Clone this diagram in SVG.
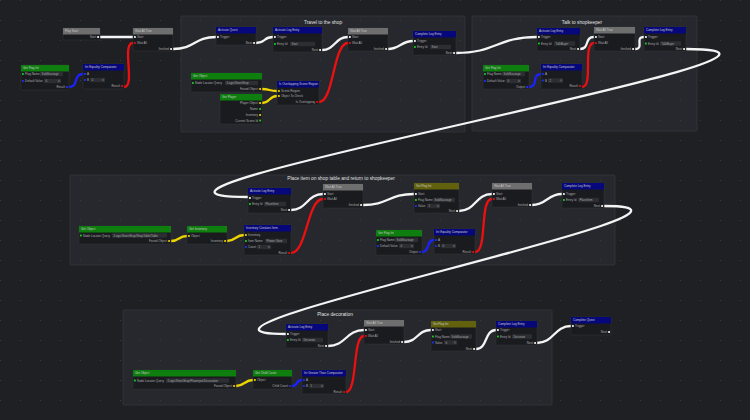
<svg xmlns="http://www.w3.org/2000/svg" width="750" height="420" viewBox="0 0 750 420">
<defs>
<pattern id="dots" width="20" height="20" patternUnits="userSpaceOnUse"><rect x="0" y="0" width="1" height="1" fill="#383b42"/></pattern>
<style>
text{font-family:"Liberation Sans","DejaVu Sans",sans-serif}
.grp{fill:#26282d;stroke:#33363c;stroke-width:0.8}
.gt{font-size:4.8px;fill:#e0e0e0;text-anchor:middle}
.nb{fill:#1a1b1f;stroke:#303238;stroke-width:0.6}
.hg{fill:#6e6e6e}.hb{fill:#07077c}.hgr{fill:#0e7e0e}.ho{fill:#62610e}
.ht{font-size:3px;fill:#c8c8c8}
.t{font-size:3px;fill:#acacac}
.e{text-anchor:end}
.fd{fill:#2c2e33}
.ft{font-size:2.9px;fill:#a8a8a8}
.sp{fill:none;stroke:#8a8a8a;stroke-width:0.4}
.pw{fill:#f0f0f0}.pg{fill:#18d018}.pb{fill:#2030ff}.py{fill:#e8d000}.pr{fill:#e01010}
.w,.r,.b,.y{fill:none;stroke-width:2.3;stroke-linecap:round}
.w{stroke:#f4f4f4}.r{stroke:#ee1010}.b{stroke:#1c22ff}.y{stroke:#ecd400}
</style>
</defs>
<rect x="0" y="0" width="750" height="420" fill="#1e2024"/>
<g id="groups">
<rect class="grp" x="181" y="16" width="284" height="116" rx="1"/>
<text class="gt" x="323" y="23.5">Travel to the shop</text>
<rect class="grp" x="472" y="16" width="225" height="115" rx="1"/>
<text class="gt" x="582" y="23.5">Talk to shopkeeper</text>
<rect class="grp" x="70" y="175" width="545" height="90" rx="1"/>
<text class="gt" x="341" y="179.8">Place item on shop table and return to shopkeeper</text>
<rect class="grp" x="123" y="310" width="429" height="95" rx="1"/>
<text class="gt" x="335" y="316">Place decoration</text>
</g>
<rect x="0" y="0" width="750" height="420" fill="url(#dots)"/>
<g id="connectors">
<path class="w" d="M100 37 C112 37,121 37,133 37"/>
<path class="r" d="M124 87 C136 87,121 43,133 43"/>
<path class="b" d="M69 87 C79 87,73 74,83 74"/>
<path class="w" d="M173 49 C195 49,194 37,216 37"/>
<path class="w" d="M256 43 C266 43,263 37,273 37"/>
<path class="w" d="M322 50 C335 50,335 37,348 37"/>
<path class="w" d="M388 49 C400 49,401 41,413 41"/>
<path class="w" d="M456 53 C496 53,497 37,537 37"/>
<path class="y" d="M262 89 C270 89,269 91,277 91"/>
<path class="y" d="M262 103 C270 103,269 96,277 96"/>
<path class="r" d="M319 102 C334 102,333 43,348 43"/>
<path class="w" d="M580 49 C590 49,584 37,594 37"/>
<path class="r" d="M582 87 C594 87,582 43,594 43"/>
<path class="b" d="M529 87 C539 87,531 74,541 74"/>
<path class="w" d="M635 49 C645 49,634 37,644 37"/>
<path class="w" d="M686 49 C896 49,38 197,248 197"/>
<path class="y" d="M171 241 C180 241,178 236,187 236"/>
<path class="y" d="M227 241 C236 241,235 235,244 235"/>
<path class="w" d="M291 210 C307 210,307 194,323 194"/>
<path class="r" d="M291 253 C307 253,307 199,323 199"/>
<path class="w" d="M363 205 C388 205,389 194,414 194"/>
<path class="b" d="M422 252 C430 252,426 240,434 240"/>
<path class="w" d="M459 211 C476 211,475 194,492 194"/>
<path class="r" d="M475 252 C488 252,479 199,492 199"/>
<path class="w" d="M532 205 C547 205,547 194,562 194"/>
<path class="w" d="M604 206 C769 206,121 334,286 334"/>
<path class="y" d="M236 386 C245 386,244 380,253 380"/>
<path class="b" d="M292 386 C299 386,295 380,302 380"/>
<path class="r" d="M346 392 C358 392,352 336,364 336"/>
<path class="w" d="M328 346 C346 346,346 330,364 330"/>
<path class="w" d="M404 342 C418 342,417 330,431 330"/>
<path class="w" d="M476 349 C488 349,484 330,496 330"/>
<path class="w" d="M537 343 C554 343,554 326,571 326"/>
</g>

<g id="play-start">
<rect class="nb" x="63" y="28" width="37" height="12" rx="0.8"/>
<rect class="hg" x="63" y="28" width="37" height="6.5"/>
<text class="ht" x="65" y="32.4">Play Start</text>
<text class="t e" x="96" y="38.1">Start</text>
<rect class="pw" x="97.2" y="36.1" width="1.8" height="1.8"/>
</g>
<g id="wait-all-1">
<rect class="nb" x="133" y="28" width="40" height="23" rx="0.8"/>
<rect class="hg" x="133" y="28" width="40" height="6.5"/>
<text class="ht" x="135" y="32.4">Wait All True</text>
<rect class="pw" x="134" y="36.1" width="1.8" height="1.8"/><text class="t" x="137" y="38.1">Start</text>
<rect class="pr" x="134" y="42.1" width="1.8" height="1.8"/><text class="t" x="137" y="44.1">Wait All</text>
<text class="t e" x="169" y="50.1">finished</text><rect class="pw" x="170.2" y="48.1" width="1.8" height="1.8"/>
</g>
<g id="get-flag-1">
<rect class="nb" x="21" y="65" width="48" height="25" rx="0.8"/>
<rect class="hgr" x="21" y="65" width="48" height="6.5"/>
<text class="ht" x="23" y="69.4">Get Flag Int</text>
<rect class="pg" x="22" y="73.1" width="1.8" height="1.8"/><text class="t" x="25" y="75.1">Flag Name</text>
<rect class="fd" x="40" y="71.8" width="23" height="4.4"/><text class="ft" x="41.5" y="75">SoldSausage</text>
<rect class="pb" x="22" y="80.1" width="1.8" height="1.8"/><text class="t" x="25" y="82.1">Default Value</text>
<rect class="fd" x="44" y="78.8" width="17" height="4.4"/><text class="ft" x="45.5" y="82">0</text><circle class="sp" cx="59" cy="81" r="0.9"/>
<text class="t e" x="65" y="88.1">Result</text><rect class="pb" x="66.2" y="86.1" width="1.8" height="1.8"/>
</g>
<g id="int-eq-1">
<rect class="nb" x="83" y="64" width="41" height="25" rx="0.8"/>
<rect class="hb" x="83" y="64" width="41" height="6.5"/>
<text class="ht" x="85" y="68.4">Int Equality Comparator</text>
<rect class="pb" x="84" y="73.1" width="1.8" height="1.8"/><text class="t" x="87" y="75.1">A</text>
<rect class="pb" x="84" y="79.1" width="1.8" height="1.8"/><text class="t" x="87" y="81.1">B</text>
<rect class="fd" x="90" y="77.8" width="15" height="4.4"/><text class="ft" x="91.5" y="81">0</text><circle class="sp" cx="103" cy="80" r="0.9"/>
<text class="t e" x="120" y="87.1">Result</text><rect class="pr" x="121.2" y="85.1" width="1.8" height="1.8"/>
</g>

<g id="activate-quest">
<rect class="nb" x="216" y="27" width="40" height="18" rx="0.8"/>
<rect class="hb" x="216" y="27" width="40" height="6.5"/>
<text class="ht" x="218" y="31.4">Activate Quest</text>
<rect class="pw" x="217" y="36.1" width="1.8" height="1.8"/><text class="t" x="220" y="38.1">Trigger</text>
<text class="t e" x="252" y="44.1">Next</text><rect class="pw" x="253.2" y="42.1" width="1.8" height="1.8"/>
</g>
<g id="activate-log-1">
<rect class="nb" x="273" y="27" width="49" height="25" rx="0.8"/>
<rect class="hb" x="273" y="27" width="49" height="6.5"/>
<text class="ht" x="275" y="31.4">Activate Log Entry</text>
<rect class="pw" x="274" y="36.1" width="1.8" height="1.8"/><text class="t" x="277" y="38.1">Trigger</text>
<rect class="pg" x="274" y="43.1" width="1.8" height="1.8"/><text class="t" x="277" y="45.1">Entry Id</text>
<rect class="fd" x="290" y="41.8" width="25" height="4.4"/><text class="ft" x="291.5" y="45">Start</text>
<text class="t e" x="318" y="51.1">Next</text><rect class="pw" x="319.2" y="49.1" width="1.8" height="1.8"/>
</g>
<g id="wait-all-2">
<rect class="nb" x="348" y="28" width="40" height="23" rx="0.8"/>
<rect class="hg" x="348" y="28" width="40" height="6.5"/>
<text class="ht" x="350" y="32.4">Wait All True</text>
<rect class="pw" x="349" y="36.1" width="1.8" height="1.8"/><text class="t" x="352" y="38.1">Start</text>
<rect class="pr" x="349" y="42.1" width="1.8" height="1.8"/><text class="t" x="352" y="44.1">Wait All</text>
<text class="t e" x="384" y="50.1">finished</text><rect class="pw" x="385.2" y="48.1" width="1.8" height="1.8"/>
</g>
<g id="complete-log-1">
<rect class="nb" x="413" y="31" width="43" height="24" rx="0.8"/>
<rect class="hb" x="413" y="31" width="43" height="6.5"/>
<text class="ht" x="415" y="35.4">Complete Log Entry</text>
<rect class="pw" x="414" y="40.1" width="1.8" height="1.8"/><text class="t" x="417" y="42.1">Trigger</text>
<rect class="pg" x="414" y="46.1" width="1.8" height="1.8"/><text class="t" x="417" y="48.1">Entry Id</text>
<rect class="fd" x="430" y="44.8" width="21" height="4.4"/><text class="ft" x="431.5" y="48">Start</text>
<text class="t e" x="452" y="54.1">Next</text><rect class="pw" x="453.2" y="52.1" width="1.8" height="1.8"/>
</g>
<g id="get-object-1">
<rect class="nb" x="191" y="73" width="71" height="19" rx="0.8"/>
<rect class="hgr" x="191" y="73" width="71" height="6.5"/>
<text class="ht" x="193" y="77.4">Get Object</text>
<rect class="pg" x="192" y="82.1" width="1.8" height="1.8"/><text class="t" x="195" y="84.1">Node Locator Query</text>
<rect class="fd" x="225" y="80.8" width="33" height="4.4"/><text class="ft" x="226.5" y="84">/Logic/StoreShop</text>
<text class="t e" x="258" y="90.1">Found Object</text><rect class="py" x="259.2" y="88.1" width="1.8" height="1.8"/>
</g>
<g id="get-player">
<rect class="nb" x="220" y="94" width="42" height="30" rx="0.8"/>
<rect class="hgr" x="220" y="94" width="42" height="6.5"/>
<text class="ht" x="222" y="98.4">Get Player</text>
<text class="t e" x="258" y="104.1">Player Object</text><rect class="py" x="259.2" y="102.1" width="1.8" height="1.8"/>
<text class="t e" x="258" y="110.1">Name</text><rect class="pg" x="259.2" y="108.1" width="1.8" height="1.8"/>
<text class="t e" x="258" y="116.1">Inventory</text><rect class="py" x="259.2" y="114.1" width="1.8" height="1.8"/>
<text class="t e" x="258" y="121.6">Current Scene Id</text><rect class="pg" x="259.2" y="119.6" width="1.8" height="1.8"/>
</g>
<g id="is-overlapping">
<rect class="nb" x="277" y="81" width="42" height="24" rx="0.8"/>
<rect class="hb" x="277" y="81" width="42" height="6.5"/>
<text class="ht" x="279" y="85.4">Is Overlapping Scene Region</text>
<rect class="py" x="278" y="90.1" width="1.8" height="1.8"/><text class="t" x="281" y="92.1">Scene Region</text>
<rect class="py" x="278" y="95.1" width="1.8" height="1.8"/><text class="t" x="281" y="97.1">Object To Check</text>
<text class="t e" x="315" y="103.1">Is Overlapping</text><rect class="pr" x="316.2" y="101.1" width="1.8" height="1.8"/>
</g>

<g id="activate-log-2">
<rect class="nb" x="537" y="28" width="43" height="23" rx="0.8"/>
<rect class="hb" x="537" y="28" width="43" height="6.5"/>
<text class="ht" x="539" y="32.4">Activate Log Entry</text>
<rect class="pw" x="538" y="36.1" width="1.8" height="1.8"/><text class="t" x="541" y="38.1">Trigger</text>
<rect class="pg" x="538" y="42.6" width="1.8" height="1.8"/><text class="t" x="541" y="44.6">Entry Id</text>
<rect class="fd" x="554" y="41.3" width="21" height="4.4"/><text class="ft" x="555.5" y="44.5">TalkBuyer</text>
<text class="t e" x="576" y="50.1">Next</text><rect class="pw" x="577.2" y="48.1" width="1.8" height="1.8"/>
</g>
<g id="wait-all-3">
<rect class="nb" x="594" y="27" width="41" height="24" rx="0.8"/>
<rect class="hg" x="594" y="27" width="41" height="6.5"/>
<text class="ht" x="596" y="31.4">Wait All True</text>
<rect class="pw" x="595" y="36.1" width="1.8" height="1.8"/><text class="t" x="598" y="38.1">Start</text>
<rect class="pr" x="595" y="42.1" width="1.8" height="1.8"/><text class="t" x="598" y="44.1">Wait All</text>
<text class="t e" x="631" y="50.1">finished</text><rect class="pw" x="632.2" y="48.1" width="1.8" height="1.8"/>
</g>
<g id="complete-log-2">
<rect class="nb" x="644" y="27" width="42" height="24" rx="0.8"/>
<rect class="hb" x="644" y="27" width="42" height="6.5"/>
<text class="ht" x="646" y="31.4">Complete Log Entry</text>
<rect class="pw" x="645" y="36.1" width="1.8" height="1.8"/><text class="t" x="648" y="38.1">Trigger</text>
<rect class="pg" x="645" y="42.6" width="1.8" height="1.8"/><text class="t" x="648" y="44.6">Entry Id</text>
<rect class="fd" x="660" y="41.3" width="21" height="4.4"/><text class="ft" x="661.5" y="44.5">TalkBuyer</text>
<text class="t e" x="682" y="50.1">Next</text><rect class="pw" x="683.2" y="48.1" width="1.8" height="1.8"/>
</g>
<g id="get-flag-2">
<rect class="nb" x="483" y="65" width="46" height="24" rx="0.8"/>
<rect class="hgr" x="483" y="65" width="46" height="6.5"/>
<text class="ht" x="485" y="69.4">Get Flag Int</text>
<rect class="pg" x="484" y="73.1" width="1.8" height="1.8"/><text class="t" x="487" y="75.1">Flag Name</text>
<rect class="fd" x="502" y="71.8" width="23" height="4.4"/><text class="ft" x="503.5" y="75">SoldSausage</text>
<rect class="pb" x="484" y="80.1" width="1.8" height="1.8"/><text class="t" x="487" y="82.1">Default Value</text>
<rect class="fd" x="506" y="78.8" width="15" height="4.4"/><text class="ft" x="507.5" y="82">0</text><circle class="sp" cx="519" cy="81" r="0.9"/>
<text class="t e" x="525" y="88.1">Output</text><rect class="pb" x="526.2" y="86.1" width="1.8" height="1.8"/>
</g>
<g id="int-eq-2">
<rect class="nb" x="541" y="64" width="41" height="25" rx="0.8"/>
<rect class="hb" x="541" y="64" width="41" height="6.5"/>
<text class="ht" x="543" y="68.4">Int Equality Comparator</text>
<rect class="pb" x="542" y="73.1" width="1.8" height="1.8"/><text class="t" x="545" y="75.1">A</text>
<rect class="pb" x="542" y="79.6" width="1.8" height="1.8"/><text class="t" x="545" y="81.6">B</text>
<rect class="fd" x="548" y="78.3" width="15" height="4.4"/><text class="ft" x="549.5" y="81.5">2</text><circle class="sp" cx="561" cy="80.5" r="0.9"/>
<text class="t e" x="578" y="87.1">Result</text><rect class="pr" x="579.2" y="85.1" width="1.8" height="1.8"/>
</g>

<g id="activate-log-3">
<rect class="nb" x="248" y="188" width="43" height="25" rx="0.8"/>
<rect class="hb" x="248" y="188" width="43" height="6.5"/>
<text class="ht" x="250" y="192.4">Activate Log Entry</text>
<rect class="pw" x="249" y="197.1" width="1.8" height="1.8"/><text class="t" x="252" y="199.1">Trigger</text>
<rect class="pg" x="249" y="203.1" width="1.8" height="1.8"/><text class="t" x="252" y="205.1">Entry Id</text>
<rect class="fd" x="264" y="201.8" width="22" height="4.4"/><text class="ft" x="265.5" y="205">PlaceItem</text>
<text class="t e" x="287" y="211.1">Next</text><rect class="pw" x="288.2" y="209.1" width="1.8" height="1.8"/>
</g>
<g id="wait-all-4">
<rect class="nb" x="323" y="184" width="40" height="24" rx="0.8"/>
<rect class="hg" x="323" y="184" width="40" height="6.5"/>
<text class="ht" x="325" y="188.4">Wait All True</text>
<rect class="pw" x="324" y="193.1" width="1.8" height="1.8"/><text class="t" x="327" y="195.1">Start</text>
<rect class="pr" x="324" y="198.1" width="1.8" height="1.8"/><text class="t" x="327" y="200.1">Wait All</text>
<text class="t e" x="359" y="206.1">finished</text><rect class="pw" x="360.2" y="204.1" width="1.8" height="1.8"/>
</g>
<g id="set-flag-1">
<rect class="nb" x="414" y="183" width="45" height="30" rx="0.8"/>
<rect class="ho" x="414" y="183" width="45" height="6.5"/>
<text class="ht" x="416" y="187.4">Set Flag Int</text>
<rect class="pw" x="415" y="193.1" width="1.8" height="1.8"/><text class="t" x="418" y="195.1">Start</text>
<rect class="pg" x="415" y="199.1" width="1.8" height="1.8"/><text class="t" x="418" y="201.1">Flag Name</text>
<rect class="fd" x="433" y="197.8" width="22" height="4.4"/><text class="ft" x="434.5" y="201">SoldSausage</text>
<rect class="pb" x="415" y="205.1" width="1.8" height="1.8"/><text class="t" x="418" y="207.1">Value</text>
<rect class="fd" x="427" y="203.8" width="13" height="4.4"/><text class="ft" x="428.5" y="207">1</text><circle class="sp" cx="438" cy="206" r="0.9"/>
<text class="t e" x="455" y="212.1">Next</text><rect class="pw" x="456.2" y="210.1" width="1.8" height="1.8"/>
</g>
<g id="wait-all-5">
<rect class="nb" x="492" y="183" width="40" height="24" rx="0.8"/>
<rect class="hg" x="492" y="183" width="40" height="6.5"/>
<text class="ht" x="494" y="187.4">Wait All True</text>
<rect class="pw" x="493" y="193.1" width="1.8" height="1.8"/><text class="t" x="496" y="195.1">Start</text>
<rect class="pr" x="493" y="198.1" width="1.8" height="1.8"/><text class="t" x="496" y="200.1">Wait All</text>
<text class="t e" x="528" y="206.1">finished</text><rect class="pw" x="529.2" y="204.1" width="1.8" height="1.8"/>
</g>
<g id="complete-log-3">
<rect class="nb" x="562" y="183" width="42" height="25" rx="0.8"/>
<rect class="hb" x="562" y="183" width="42" height="6.5"/>
<text class="ht" x="564" y="187.4">Complete Log Entry</text>
<rect class="pw" x="563" y="193.1" width="1.8" height="1.8"/><text class="t" x="566" y="195.1">Trigger</text>
<rect class="pg" x="563" y="199.1" width="1.8" height="1.8"/><text class="t" x="566" y="201.1">Entry Id</text>
<rect class="fd" x="578" y="197.8" width="21" height="4.4"/><text class="ft" x="579.5" y="201">PlaceItem</text>
<text class="t e" x="600" y="207.1">Next</text><rect class="pw" x="601.2" y="205.1" width="1.8" height="1.8"/>
</g>
<g id="get-object-2">
<rect class="nb" x="79" y="226" width="92" height="18" rx="0.8"/>
<rect class="hgr" x="79" y="226" width="92" height="6.5"/>
<text class="ht" x="81" y="230.4">Get Object</text>
<rect class="pg" x="80" y="234.6" width="1.8" height="1.8"/><text class="t" x="83" y="236.6">Node Locator Query</text>
<rect class="fd" x="112" y="233.3" width="55" height="4.4"/><text class="ft" x="113.5" y="236.5">/Logic/StoreShop/ShopTable/Table</text>
<text class="t e" x="167" y="242.1">Found Object</text><rect class="py" x="168.2" y="240.1" width="1.8" height="1.8"/>
</g>
<g id="get-inventory">
<rect class="nb" x="187" y="226" width="40" height="18" rx="0.8"/>
<rect class="hgr" x="187" y="226" width="40" height="6.5"/>
<text class="ht" x="189" y="230.4">Get Inventory</text>
<rect class="py" x="188" y="235.1" width="1.8" height="1.8"/><text class="t" x="191" y="237.1">Object</text>
<text class="t e" x="223" y="242.1">Inventory</text><rect class="py" x="224.2" y="240.1" width="1.8" height="1.8"/>
</g>
<g id="inventory-contains">
<rect class="nb" x="244" y="225" width="47" height="30" rx="0.8"/>
<rect class="hb" x="244" y="225" width="47" height="6.5"/>
<text class="ht" x="246" y="229.4">Inventory Contains Item</text>
<rect class="py" x="245" y="234.1" width="1.8" height="1.8"/><text class="t" x="248" y="236.1">Inventory</text>
<rect class="pg" x="245" y="240.1" width="1.8" height="1.8"/><text class="t" x="248" y="242.1">Item Name</text>
<rect class="fd" x="265" y="238.8" width="22" height="4.4"/><text class="ft" x="266.5" y="242">Flower Vase</text>
<rect class="pb" x="245" y="246.1" width="1.8" height="1.8"/><text class="t" x="248" y="248.1">Count</text>
<rect class="fd" x="257" y="244.8" width="14" height="4.4"/><text class="ft" x="258.5" y="248">1</text><circle class="sp" cx="269" cy="247" r="0.9"/>
<text class="t e" x="287" y="254.1">Result</text><rect class="pr" x="288.2" y="252.1" width="1.8" height="1.8"/>
</g>
<g id="get-flag-3">
<rect class="nb" x="376" y="230" width="46" height="25" rx="0.8"/>
<rect class="hgr" x="376" y="230" width="46" height="6.5"/>
<text class="ht" x="378" y="234.4">Get Flag Int</text>
<rect class="pg" x="377" y="239.1" width="1.8" height="1.8"/><text class="t" x="380" y="241.1">Flag Name</text>
<rect class="fd" x="395" y="237.8" width="23" height="4.4"/><text class="ft" x="396.5" y="241">SoldSausage</text>
<rect class="pb" x="377" y="245.1" width="1.8" height="1.8"/><text class="t" x="380" y="247.1">Default Value</text>
<rect class="fd" x="399" y="243.8" width="15" height="4.4"/><text class="ft" x="400.5" y="247">0</text><circle class="sp" cx="412" cy="246" r="0.9"/>
<text class="t e" x="418" y="253.1">Output</text><rect class="pb" x="419.2" y="251.1" width="1.8" height="1.8"/>
</g>
<g id="int-eq-3">
<rect class="nb" x="434" y="229" width="41" height="25" rx="0.8"/>
<rect class="hb" x="434" y="229" width="41" height="6.5"/>
<text class="ht" x="436" y="233.4">Int Equality Comparator</text>
<rect class="pb" x="435" y="239.1" width="1.8" height="1.8"/><text class="t" x="438" y="241.1">A</text>
<rect class="pb" x="435" y="245.1" width="1.8" height="1.8"/><text class="t" x="438" y="247.1">B</text>
<rect class="fd" x="441" y="243.8" width="15" height="4.4"/><text class="ft" x="442.5" y="247">0</text><circle class="sp" cx="454" cy="246" r="0.9"/>
<text class="t e" x="471" y="253.1">Result</text><rect class="pr" x="472.2" y="251.1" width="1.8" height="1.8"/>
</g>

<g id="activate-log-4">
<rect class="nb" x="286" y="324" width="42" height="24" rx="0.8"/>
<rect class="hb" x="286" y="324" width="42" height="6.5"/>
<text class="ht" x="288" y="328.4">Activate Log Entry</text>
<rect class="pw" x="287" y="333.1" width="1.8" height="1.8"/><text class="t" x="290" y="335.1">Trigger</text>
<rect class="pg" x="287" y="339.1" width="1.8" height="1.8"/><text class="t" x="290" y="341.1">Entry Id</text>
<rect class="fd" x="302" y="337.8" width="21" height="4.4"/><text class="ft" x="303.5" y="341">Decorate</text>
<text class="t e" x="324" y="347.1">Next</text><rect class="pw" x="325.2" y="345.1" width="1.8" height="1.8"/>
</g>
<g id="wait-all-6">
<rect class="nb" x="364" y="320" width="40" height="24" rx="0.8"/>
<rect class="hg" x="364" y="320" width="40" height="6.5"/>
<text class="ht" x="366" y="324.4">Wait All True</text>
<rect class="pw" x="365" y="329.1" width="1.8" height="1.8"/><text class="t" x="368" y="331.1">Start</text>
<rect class="pr" x="365" y="335.1" width="1.8" height="1.8"/><text class="t" x="368" y="337.1">Wait All</text>
<text class="t e" x="400" y="343.1">finished</text><rect class="pw" x="401.2" y="341.1" width="1.8" height="1.8"/>
</g>
<g id="set-flag-2">
<rect class="nb" x="431" y="321" width="45" height="30" rx="0.8"/>
<rect class="ho" x="431" y="321" width="45" height="6.5"/>
<text class="ht" x="433" y="325.4">Set Flag Int</text>
<rect class="pw" x="432" y="329.1" width="1.8" height="1.8"/><text class="t" x="435" y="331.1">Start</text>
<rect class="pg" x="432" y="335.6" width="1.8" height="1.8"/><text class="t" x="435" y="337.6">Flag Name</text>
<rect class="fd" x="450" y="334.3" width="22" height="4.4"/><text class="ft" x="451.5" y="337.5">SoldSausage</text>
<rect class="pb" x="432" y="341.6" width="1.8" height="1.8"/><text class="t" x="435" y="343.6">Value</text>
<rect class="fd" x="444" y="340.3" width="13" height="4.4"/><text class="ft" x="445.5" y="343.5">0</text><circle class="sp" cx="455" cy="342.5" r="0.9"/>
<text class="t e" x="472" y="350.1">Next</text><rect class="pw" x="473.2" y="348.1" width="1.8" height="1.8"/>
</g>
<g id="complete-log-4">
<rect class="nb" x="496" y="321" width="41" height="24" rx="0.8"/>
<rect class="hb" x="496" y="321" width="41" height="6.5"/>
<text class="ht" x="498" y="325.4">Complete Log Entry</text>
<rect class="pw" x="497" y="329.1" width="1.8" height="1.8"/><text class="t" x="500" y="331.1">Trigger</text>
<rect class="pg" x="497" y="335.6" width="1.8" height="1.8"/><text class="t" x="500" y="337.6">Entry Id</text>
<rect class="fd" x="512" y="334.3" width="20" height="4.4"/><text class="ft" x="513.5" y="337.5">Decorate</text>
<text class="t e" x="533" y="344.1">Next</text><rect class="pw" x="534.2" y="342.1" width="1.8" height="1.8"/>
</g>
<g id="complete-quest">
<rect class="nb" x="571" y="317" width="40" height="18" rx="0.8"/>
<rect class="hb" x="571" y="317" width="40" height="6.5"/>
<text class="ht" x="573" y="321.4">Complete Quest</text>
<rect class="pw" x="572" y="325.1" width="1.8" height="1.8"/><text class="t" x="575" y="327.1">Trigger</text>
<text class="t e" x="607" y="333.1">Next</text><rect class="pw" x="608.2" y="331.1" width="1.8" height="1.8"/>
</g>
<g id="get-object-3">
<rect class="nb" x="133" y="370" width="103" height="19" rx="0.8"/>
<rect class="hgr" x="133" y="370" width="103" height="6.5"/>
<text class="ht" x="135" y="374.4">Get Object</text>
<rect class="pg" x="134" y="379.6" width="1.8" height="1.8"/><text class="t" x="137" y="381.6">Node Locator Query</text>
<rect class="fd" x="166" y="378.3" width="63" height="4.4"/><text class="ft" x="167.5" y="381.5">/Logic/StoreShop/Flowerpot/Decoration</text>
<text class="t e" x="232" y="387.1">Found Object</text><rect class="py" x="233.2" y="385.1" width="1.8" height="1.8"/>
</g>
<g id="get-child-count">
<rect class="nb" x="253" y="370" width="39" height="19" rx="0.8"/>
<rect class="hgr" x="253" y="370" width="39" height="6.5"/>
<text class="ht" x="255" y="374.4">Get Child Count</text>
<rect class="py" x="254" y="379.1" width="1.8" height="1.8"/><text class="t" x="257" y="381.1">Object</text>
<text class="t e" x="288" y="387.1">Child Count</text><rect class="pb" x="289.2" y="385.1" width="1.8" height="1.8"/>
</g>
<g id="int-greater">
<rect class="nb" x="302" y="370" width="44" height="24" rx="0.8"/>
<rect class="hb" x="302" y="370" width="44" height="6.5"/>
<text class="ht" x="304" y="374.4">Int Greater Than Comparator</text>
<rect class="pb" x="303" y="379.1" width="1.8" height="1.8"/><text class="t" x="306" y="381.1">A</text>
<rect class="pb" x="303" y="385.1" width="1.8" height="1.8"/><text class="t" x="306" y="387.1">B</text>
<rect class="fd" x="309" y="383.8" width="15" height="4.4"/><text class="ft" x="310.5" y="387">1</text><circle class="sp" cx="322" cy="386" r="0.9"/>
<text class="t e" x="342" y="393.1">Result</text><rect class="pr" x="343.2" y="391.1" width="1.8" height="1.8"/>
</g>
</svg>
